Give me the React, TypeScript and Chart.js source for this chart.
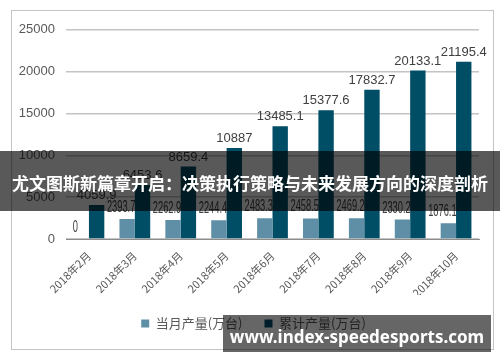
import React, { useEffect, useRef } from "react";
import { Chart, registerables } from "chart.js";

Chart.register(...registerables);

const categories = [
  "2018年2月",
  "2018年3月",
  "2018年4月",
  "2018年5月",
  "2018年6月",
  "2018年7月",
  "2018年8月",
  "2018年9月",
  "2018年10月",
];
const monthlyOutput = [0, 2393.7, 2262.9, 2244.4, 2483.3, 2458.5, 2469.2, 2330.2, 1876.1];
const cumulativeOutput = [4059.9, 6453.6, 8659.4, 10887, 13485.1, 15377.6, 17832.7, 20133.1, 21195.4];
const monthlyLabel = "当月产量(万台)";
const cumulativeLabel = "累计产量(万台)";
const yMin = 0;
const yMax = 25000;
const yStep = 5000;
const bannerText = "尤文图斯新篇章开启：决策执行策略与未来发展方向的深度剖析";
const watermarkText = "www.index-speedesports.com";

const LIGHT = "#5e8fa6";
const DARK = "#004d66";

function fmt(v: number): string {
  return String(v);
}

const valueLabels = {
  id: "valueLabels",
  afterDatasetsDraw(chart: any) {
    const ctx = chart.ctx as CanvasRenderingContext2D;
    chart.data.datasets.forEach((ds: any, di: number) => {
      const meta = chart.getDatasetMeta(di);
      meta.data.forEach((bar: any, i: number) => {
        const v = ds.data[i];
        const text = fmt(v);
        ctx.save();
        ctx.fillStyle = "#404040";
        ctx.textAlign = "center";
        ctx.textBaseline = "alphabetic";
        if (di === 0) {
          ctx.font = "16px 'Liberation Sans', Arial, sans-serif";
          ctx.translate(bar.x - 6, bar.y - 7);
          ctx.scale(0.58, 1);
          ctx.fillText(text, 0, 0);
        } else {
          ctx.font = "13px 'Liberation Sans', Arial, sans-serif";
          ctx.fillText(text, bar.x, bar.y - 6);
        }
        ctx.restore();
      });
    });
  },
};

const legendShift = {
  id: "legendShift",
  afterLayout(chart: any) {
    const l = chart.legend;
    if (l) {
      l.left += 8;
      l.right += 8;
    }
  },
};

export default function App() {
  const canvasRef = useRef<HTMLCanvasElement | null>(null);

  useEffect(() => {
    if (!canvasRef.current) return;
    const chart = new Chart(canvasRef.current, {
      type: "bar",
      data: {
        labels: categories,
        datasets: [
          {
            label: monthlyLabel,
            data: monthlyOutput,
            backgroundColor: LIGHT,
            barPercentage: 1,
            categoryPercentage: 0.67,
          },
          {
            label: cumulativeLabel,
            data: cumulativeOutput,
            backgroundColor: DARK,
            barPercentage: 1,
            categoryPercentage: 0.67,
          },
        ],
      },
      options: {
        responsive: false,
        animation: false,
        layout: { padding: { left: 0, right: 14, top: 14, bottom: 22 } },
        plugins: {
          tooltip: { enabled: false },
          legend: {
            display: true,
            position: "bottom",
            labels: {
              boxWidth: 8,
              boxHeight: 8,
              padding: 22,
              color: "#595959",
              font: { size: 13, family: "'Noto Sans CJK SC', 'Liberation Sans', sans-serif" },
            },
          },
        },
        scales: {
          x: {
            grid: { display: false },
            border: { display: true, color: "#8c8c8c", width: 1 },
            ticks: {
              color: "#595959",
              maxRotation: 45,
              minRotation: 45,
              padding: 2,
              font: { size: 11, family: "'Noto Sans CJK SC', 'Liberation Sans', sans-serif" },
            },
            afterFit(scale: any) {
              scale.height = 56;
            },
          },
          y: {
            min: yMin,
            max: yMax,
            ticks: {
              stepSize: yStep,
              color: "#595959",
              padding: 11,
              font: { size: 13, family: "'Liberation Sans', Arial, sans-serif" },
              callback: (v: any) => String(v),
            },
            grid: { color: "#c4c4c4", lineWidth: 1.5, drawTicks: false },
            border: { display: false },
            afterFit(scale: any) {
              scale.width = 54;
            },
          },
        },
      },
      plugins: [valueLabels, legendShift],
    });
    return () => chart.destroy();
  }, []);

  return (
    <div
      style={{
        position: "fixed",
        left: 0,
        top: 0,
        width: 500,
        height: 362,
        background: "#ffffff",
        overflow: "hidden",
      }}
    >
      <canvas
        ref={canvasRef}
        width={481}
        height={351}
        style={{ position: "absolute", left: 12, top: 11, width: 481, height: 351 }}
      />
      <div
        style={{
          position: "absolute",
          left: 11,
          top: 10,
          width: 483,
          height: 340,
          boxSizing: "border-box",
          border: "1px solid #c4c4c4",
          pointerEvents: "none",
        }}
      />
      <div
        style={{
          position: "absolute",
          left: 0,
          top: 151,
          width: 500,
          height: 60,
          background: "rgba(0,0,0,0.65)",
          display: "flex",
          alignItems: "center",
          justifyContent: "center",
          color: "#ffffff",
          fontFamily: "'Noto Sans CJK SC', sans-serif",
          fontWeight: 700,
          fontSize: 17,
          whiteSpace: "nowrap",
          paddingTop: 3,
          boxSizing: "border-box",
        }}
      >
        {bannerText}
      </div>
      <div
        style={{
          position: "absolute",
          left: 223,
          top: 315,
          width: 268,
          height: 37,
          background: "rgba(0,0,0,0.6)",
          display: "flex",
          alignItems: "center",
          justifyContent: "center",
          color: "#ffffff",
          fontFamily: "'Noto Sans', 'Open Sans', sans-serif",
          fontWeight: 700,
          fontSize: 17,
          whiteSpace: "nowrap",
          paddingTop: 6,
          boxSizing: "border-box",
        }}
      >
        {watermarkText}
      </div>
    </div>
  );
}
